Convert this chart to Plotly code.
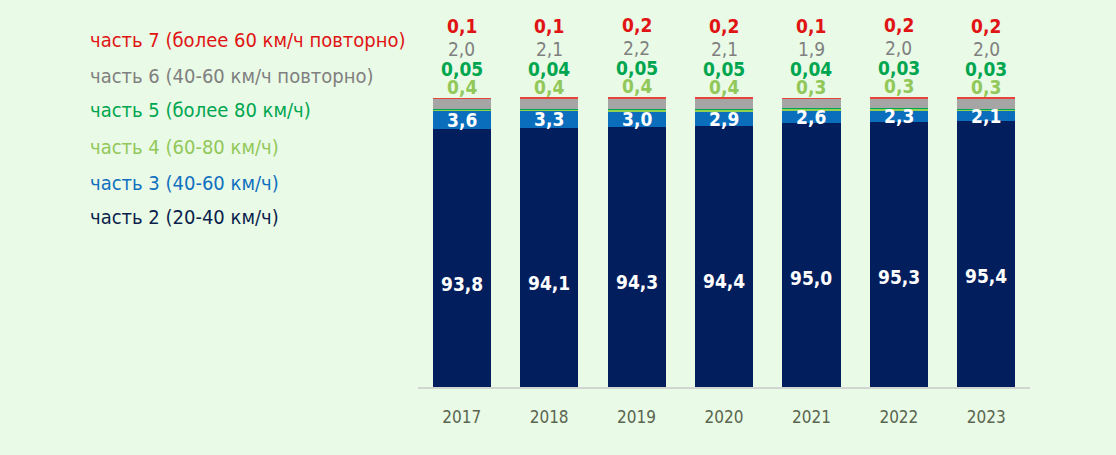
import plotly.graph_objects as go

years = ["2017", "2018", "2019", "2020", "2021", "2022", "2023"]
part2 = [93.8, 94.1, 94.3, 94.4, 95.0, 95.3, 95.4]
part3 = [3.6, 3.3, 3.0, 2.9, 2.6, 2.3, 2.1]
part4 = [0.4, 0.4, 0.4, 0.4, 0.3, 0.3, 0.3]
part5 = [0.05, 0.04, 0.05, 0.05, 0.04, 0.03, 0.03]
part6 = [2.0, 2.1, 2.2, 2.1, 1.9, 2.0, 2.0]
part7 = [0.1, 0.1, 0.2, 0.2, 0.1, 0.2, 0.2]

legend_labels = [
    "часть 7 (более 60 км/ч повторно)",
    "часть 6 (40-60 км/ч повторно)",
    "часть 5 (более 80 км/ч)",
    "часть 4 (60-80 км/ч)",
    "часть 3 (40-60 км/ч)",
    "часть 2 (20-40 км/ч)",
]

BG = "#E9FAE6"
C_NAVY = "#021E5C"
C_BLUE = "#0A6EBD"
C_LGREEN = "#92D050"
C_GREEN = "#00A651"
C_GREY = "#A5A5A5"
C_RED = "#E8423A"

T_RED = "#E01414"
T_GREY = "#808080"
T_GREEN = "#00A64F"
T_LGREEN = "#92C85A"
T_BLUE = "#1070C0"
T_NAVY = "#0B1F4C"

FONT = "DejaVu Sans Condensed, Liberation Sans Narrow, Liberation Sans, sans-serif"

W, H = 1116, 455
L, R_ = 418, 1030
TOP, BOT = 97, 387

def fmt(v, d=1):
    return f"{v:.{d}f}".replace(".", ",")

fig = go.Figure()
series = [
    (part2, C_NAVY), (part3, C_BLUE), (part4, C_LGREEN),
    (part5, C_GREEN), (part6, C_GREY), (part7, C_RED),
]
for vals, col in series:
    fig.add_trace(go.Bar(x=years, y=vals, marker=dict(color=col, line=dict(width=0)),
                         showlegend=False, hoverinfo="x+y"))

ann = []
for i, yr in enumerate(years):
    total = part2[i] + part3[i] + part4[i] + part5[i] + part6[i] + part7[i]
    ann.append(dict(x=i, y=part2[i], yref="y", text=f"<b>{fmt(part2[i])}</b>", showarrow=False,
                    yanchor="middle", yshift=-155, font=dict(color="white", size=19, family=FONT)))
    ann.append(dict(x=i, y=part2[i] + part3[i] / 2, yref="y", text=f"<b>{fmt(part3[i])}</b>",
                    showarrow=False, yanchor="middle", yshift=0,
                    font=dict(color="white", size=19, family=FONT)))
    tops = [
        (fmt(part4[i]), T_LGREEN, 11, True),
        (fmt(part5[i], 2), T_GREEN, 29, True),
        (fmt(part6[i]), T_GREY, 49, False),
        (fmt(part7[i]), T_RED, 72, True),
    ]
    for txt, col, sh, bold in tops:
        ann.append(dict(x=i, y=total, yref="y", text=(f"<b>{txt}</b>" if bold else txt),
                        showarrow=False, yanchor="middle", yshift=sh,
                        font=dict(color=col, size=19, family=FONT)))

leg_cols = [T_RED, T_GREY, T_GREEN, T_LGREEN, T_BLUE, T_NAVY]
leg_y = [40, 76, 110, 147, 183, 217]
for txt, col, py in zip(legend_labels, leg_cols, leg_y):
    ann.append(dict(xref="paper", yref="paper", x=(88 - L) / (R_ - L), y=(BOT - py) / (BOT - TOP),
                    xanchor="left", yanchor="middle", text=txt, showarrow=False,
                    font=dict(color=col, size=20, family=FONT)))

fig.update_layout(
    width=W, height=H,
    barmode="stack", bargap=0.335,
    paper_bgcolor=BG, plot_bgcolor=BG,
    margin=dict(l=L, r=W - R_, t=TOP, b=H - BOT, pad=0),
    annotations=ann,
    xaxis=dict(type="category", range=[-0.5, 6.5], showline=True, linecolor="#D2D6D0", linewidth=2,
               ticks="outside", ticklen=14, tickcolor=BG,
               tickfont=dict(color="#5A6650", size=17, family=FONT),
               showgrid=False, zeroline=False),
    yaxis=dict(range=[42.6, 100.2], visible=False, showgrid=False, zeroline=False),
)

fig.write_html("out.html", config={"displayModeBar": False},
               post_script="document.body.style.margin='0';document.body.style.background='%s';" % BG)
